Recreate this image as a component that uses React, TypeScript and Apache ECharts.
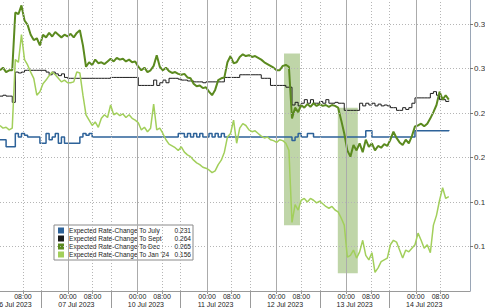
import React, { useEffect, useRef } from 'react';
import * as echarts from 'echarts';

const FONT = "'Liberation Sans', Arial, sans-serif";

const seriesNames = [
  'Expected Rate-Change To July',
  'Expected Rate-Change To Sept',
  'Expected Rate-Change To Dec',
  "Expected Rate-Change To Jan '24",
];
const lastValues = [0.231, 0.264, 0.265, 0.156];
const colors = ['#2d6299', '#1c1c1c', '#5b8a1f', '#a2cf5b'];

// samples: compressed trading hours since 06 Jul 2023 00:00, one per hour
const T0 = 0.5;
const STEP = 1;

const july = [
  0.220, 0.220, 0.212, 0.212, 0.212, 0.227, 0.223, 0.227, 0.225, 0.223,
  0.223, 0.223, 0.223, 0.216, 0.216, 0.227, 0.220, 0.223, 0.227, 0.216,
  0.223, 0.216, 0.216, 0.216, 0.216, 0.216, 0.223, 0.227, 0.225, 0.227,
  0.223, 0.223, 0.223, 0.223, 0.223, 0.223, 0.223, 0.223, 0.223, 0.223,
  0.223, 0.223, 0.223, 0.223, 0.223, 0.223, 0.223, 0.223, 0.223, 0.223,
  0.223, 0.223, 0.223, 0.223, 0.223, 0.223, 0.223, 0.223, 0.227, 0.227,
  0.223, 0.227, 0.223, 0.227, 0.223, 0.227, 0.223, 0.223, 0.227, 0.223,
  0.227, 0.223, 0.227, 0.223, 0.223, 0.223, 0.223, 0.223, 0.223, 0.223,
  0.223, 0.223, 0.223, 0.223, 0.223, 0.223, 0.223, 0.223, 0.223, 0.223,
  0.223, 0.223, 0.223, 0.223, 0.223, 0.219, 0.223, 0.227, 0.223, 0.223,
  0.227, 0.227, 0.223, 0.223, 0.223, 0.223, 0.223, 0.223, 0.223, 0.223,
  0.223, 0.223, 0.223, 0.223, 0.223, 0.223, 0.223, 0.223, 0.223, 0.230,
  0.230, 0.223, 0.223, 0.223, 0.223, 0.223, 0.223, 0.223, 0.223, 0.223,
  0.223, 0.223, 0.223, 0.223, 0.223, 0.230, 0.230, 0.230, 0.230, 0.230,
  0.230, 0.230, 0.230, 0.230, 0.230, 0.230, 0.231,
];

const sept = [
  0.269, 0.270, 0.269, 0.269, 0.262, 0.296, 0.295, 0.296, 0.298, 0.298,
  0.298, 0.298, 0.298, 0.298, 0.298, 0.296, 0.293, 0.296, 0.294, 0.292,
  0.294, 0.290, 0.289, 0.289, 0.289, 0.289, 0.289, 0.289, 0.289, 0.289,
  0.289, 0.289, 0.289, 0.289, 0.289, 0.289, 0.290, 0.290, 0.290, 0.290,
  0.290, 0.290, 0.290, 0.290, 0.290, 0.281, 0.281, 0.281, 0.281, 0.281,
  0.287, 0.281, 0.284, 0.287, 0.284, 0.289, 0.289, 0.289, 0.288, 0.287,
  0.287, 0.286, 0.286, 0.285, 0.285, 0.285, 0.284, 0.285, 0.285, 0.285,
  0.285, 0.285, 0.285, 0.290, 0.290, 0.290, 0.290, 0.290, 0.293, 0.293,
  0.293, 0.293, 0.293, 0.293, 0.293, 0.289, 0.289, 0.289, 0.281, 0.281,
  0.281, 0.281, 0.281, 0.279, 0.279, 0.259, 0.262, 0.258, 0.261, 0.265,
  0.261, 0.265, 0.261, 0.261, 0.263, 0.261, 0.265, 0.261, 0.261, 0.262,
  0.261, 0.261, 0.253, 0.253, 0.253, 0.253, 0.253, 0.261, 0.258, 0.261,
  0.259, 0.261, 0.258, 0.260, 0.258, 0.259, 0.258, 0.256, 0.256, 0.253,
  0.253, 0.256, 0.254, 0.256, 0.261, 0.267, 0.267, 0.267, 0.267, 0.267,
  0.272, 0.274, 0.270, 0.265, 0.265, 0.263, 0.264,
];

const dec = [
  0.298, 0.301, 0.296, 0.298, 0.298, 0.363, 0.361, 0.371, 0.354, 0.349,
  0.338, 0.332, 0.334, 0.326, 0.338, 0.335, 0.340, 0.336, 0.341, 0.338,
  0.335, 0.338, 0.336, 0.339, 0.335, 0.340, 0.343, 0.326, 0.302, 0.307,
  0.304, 0.310, 0.306, 0.307, 0.305, 0.308, 0.311, 0.308, 0.312, 0.310,
  0.311, 0.308, 0.310, 0.307, 0.308, 0.302, 0.298, 0.301, 0.296, 0.298,
  0.303, 0.315, 0.302, 0.298, 0.301, 0.297, 0.295, 0.296, 0.294, 0.293,
  0.294, 0.290, 0.289, 0.283, 0.280, 0.281, 0.278, 0.279, 0.274, 0.270,
  0.276, 0.287, 0.289, 0.290, 0.307, 0.314, 0.306, 0.307, 0.313, 0.316,
  0.314, 0.315, 0.313, 0.314, 0.312, 0.310, 0.307, 0.305, 0.303, 0.301,
  0.298, 0.298, 0.303, 0.304, 0.302, 0.244, 0.256, 0.251, 0.259, 0.256,
  0.260, 0.257, 0.261, 0.258, 0.260, 0.258, 0.259, 0.257, 0.259, 0.258,
  0.256, 0.242, 0.227, 0.208, 0.201, 0.214, 0.208, 0.216, 0.206, 0.220,
  0.212, 0.216, 0.208, 0.213, 0.211, 0.215, 0.213, 0.220, 0.229, 0.222,
  0.217, 0.214, 0.220, 0.216, 0.224, 0.235, 0.236, 0.238, 0.235, 0.238,
  0.244, 0.251, 0.259, 0.274, 0.265, 0.270, 0.265,
];

const jan24 = [
  0.236, 0.233, 0.234, 0.231, 0.233, 0.310, 0.307, 0.338, 0.310, 0.304,
  0.296, 0.289, 0.270, 0.274, 0.283, 0.287, 0.292, 0.296, 0.293, 0.289,
  0.285, 0.287, 0.284, 0.284, 0.285, 0.296, 0.295, 0.270, 0.248, 0.242,
  0.236, 0.240, 0.234, 0.244, 0.248, 0.245, 0.259, 0.248, 0.250, 0.247,
  0.249, 0.245, 0.248, 0.244, 0.242, 0.239, 0.231, 0.234, 0.229, 0.233,
  0.260, 0.231, 0.233, 0.227, 0.220, 0.215, 0.213, 0.211, 0.208, 0.212,
  0.206, 0.203, 0.201, 0.197, 0.194, 0.192, 0.189, 0.188, 0.186, 0.183,
  0.185, 0.192, 0.197, 0.206, 0.223, 0.227, 0.242, 0.216, 0.233, 0.238,
  0.236, 0.231, 0.229, 0.230, 0.227, 0.224, 0.222, 0.223, 0.220, 0.219,
  0.217, 0.220, 0.219, 0.216, 0.208, 0.127, 0.147, 0.141, 0.152, 0.154,
  0.150, 0.154, 0.152, 0.149, 0.151, 0.148, 0.145, 0.143, 0.145, 0.141,
  0.139, 0.132, 0.124, 0.088, 0.090, 0.096, 0.087, 0.094, 0.107, 0.090,
  0.085, 0.093, 0.071, 0.076, 0.083, 0.085, 0.087, 0.102, 0.107, 0.105,
  0.096, 0.087, 0.096, 0.094, 0.098, 0.102, 0.115, 0.107, 0.098, 0.102,
  0.093, 0.124, 0.135, 0.152, 0.166, 0.154, 0.156,
];

const dayLabels = ['06 Jul 2023', '07 Jul 2023', '10 Jul 2023', '11 Jul 2023', '12 Jul 2023', '13 Jul 2023', '14 Jul 2023'];
const dayCenters = [4.9, 25.35, 47.98, 70.61, 93.24, 115.87, 138.5];
const midnightTimes = [22.63, 45.26, 67.89, 90.52, 113.15, 135.78];
const eightTimes = [8, 30.63, 53.26, 75.89, 98.52, 121.15, 143.78];
const sessionBreaks = [14.03, 36.66, 59.29, 81.92, 104.55, 127.18];
const yTicks = [0.1, 0.15, 0.2, 0.25, 0.3, 0.35];

const eventStart = [92.9, 110.4];
const eventEnd = [98.1, 116.9];
const eventHigh = [0.317, 0.256];
const eventLow = [0.124, 0.07];

const X_MIN = 0.52;
const X_MAX = 153.4;

export default function App() {
  const ref = useRef<HTMLDivElement>(null);
  useEffect(() => {
    const chart = echarts.init(ref.current!, null, { renderer: 'svg' });
    const toData = (vals: number[]) => vals.map((v, i) => [T0 + i * STEP, v]);
    const near = (arr: number[], v: number) => arr.findIndex((t) => Math.abs(t - v) < 0.01);
    const timeTicks = [...eightTimes, ...midnightTimes].sort((a, b) => a - b);
    const allSeries = [july, sept, dec, jan24];
    const widths = [1.5, 1, 2, 1.5];
    const badgeText = ['#fff', '#fff', '#fff', '#2d4a0a'];
    const badgeBg = ['#2f6aa8', '#111', '#5b8a1f', '#a8d45c'];

    const dotted = { color: '#b5b5b5', type: [1, 2] as any, width: 1 };
    const solid = { color: '#ababab', type: 'solid' as any, width: 1 };
    const gridLines: any[] = [
      ...yTicks.map((v) => ({ yAxis: v, lineStyle: dotted })),
      ...eightTimes.map((t) => ({ xAxis: t, lineStyle: dotted })),
      ...sessionBreaks.map((t) => ({ xAxis: t, lineStyle: dotted })),
      ...midnightTimes.map((t) => ({ xAxis: t, lineStyle: solid })),
    ];

    const option: any = {
      animation: false,
      backgroundColor: '#fff',
      textStyle: { fontFamily: FONT },
      grid: { left: 0, right: 15, top: 0, bottom: 17, containLabel: false, outerBoundsMode: 'none' },
      legend: {
        data: seriesNames,
        orient: 'vertical',
        left: 54,
        top: 225,
        itemWidth: 6,
        itemHeight: 6,
        itemGap: 1,
        padding: [2, 2, 2, 4],
        icon: 'rect',
        backgroundColor: '#fff',
        borderColor: '#8a8a8a',
        borderWidth: 1,
        formatter: (name: string) => {
          const i = seriesNames.indexOf(name);
          return `{n|${name}}{v|${lastValues[i].toFixed(3)}}`;
        },
        textStyle: {
          fontFamily: FONT,
          fontSize: 6.6,
          color: '#222',
          rich: {
            n: { width: 104, fontSize: 6.6, lineHeight: 8, fontFamily: FONT, color: '#222' },
            v: { width: 18, align: 'right', fontSize: 6.6, lineHeight: 8, fontFamily: FONT, color: '#222' },
          },
        },
      },
      xAxis: [
        {
          type: 'value',
          min: X_MIN,
          max: X_MAX,
          position: 'bottom',
          axisLine: { show: true, lineStyle: { color: '#9a9a9a', width: 1 } },
          axisTick: { show: true, length: 3, customValues: timeTicks, lineStyle: { color: '#9a9a9a' } },
          axisLabel: {
            customValues: timeTicks,
            fontSize: 7,
            lineHeight: 7,
            color: '#222',
            margin: 2,
            fontFamily: FONT,
            formatter: (v: number) => (near(midnightTimes, v) >= 0 ? '00:00' : near(eightTimes, v) >= 0 ? '08:00' : ''),
          },
          splitLine: { show: false },
        },
        {
          type: 'value',
          min: X_MIN,
          max: X_MAX,
          position: 'bottom',
          offset: 0,
          axisLine: { show: false },
          axisTick: { show: true, length: 18, customValues: sessionBreaks, lineStyle: { color: '#9a9a9a' } },
          axisLabel: {
            customValues: dayCenters,
            fontSize: 7,
            lineHeight: 7,
            color: '#222',
            margin: 10,
            fontFamily: FONT,
            formatter: (v: number) => {
              const i = near(dayCenters, v);
              return i >= 0 ? dayLabels[i] : '';
            },
          },
          splitLine: { show: false },
        },
      ],
      yAxis: {
        type: 'value',
        position: 'right',
        min: 0.05,
        max: 0.377,
        interval: 0.05,
        axisLine: { show: true, lineStyle: { color: '#9aa6b6', width: 1 } },
        axisTick: { show: true, length: 3, customValues: yTicks, lineStyle: { color: '#777' } },
        axisLabel: {
          customValues: yTicks,
          fontSize: 8,
          color: '#333',
          margin: 4,
          fontFamily: FONT,
          formatter: (v: number) => (v < 0.075 || v > 0.36 ? '' : v.toFixed(2)),
        },
        splitLine: { show: false },
      },
      series: [
        {
          type: 'line',
          name: 'gridlines',
          data: [],
          silent: true,
          z: 1,
          markLine: {
            silent: true,
            symbol: ['none', 'none'],
            label: { show: false },
            data: gridLines,
          },
          markArea: {
            silent: true,
            itemStyle: { color: 'rgba(112,162,62,0.45)' },
            data: eventStart.map((s, i) => [
              { xAxis: s, yAxis: eventHigh[i] },
              { xAxis: eventEnd[i], yAxis: eventLow[i] },
            ]),
          },
        },
        ...allSeries.map((vals, k) => ({
          type: 'line',
          name: seriesNames[k],
          data: toData(vals),
          step: k < 2 ? 'end' : undefined,
          showSymbol: false,
          symbol: 'none',
          z: 2 + k,
          lineStyle: { color: colors[k], width: widths[k] },
          itemStyle: { color: colors[k] },
          markLine: {
            silent: true,
            symbol: ['none', 'none'],
            lineStyle: { opacity: 0 },
            label: {
              show: true,
              position: 'end',
              distance: 2,
              formatter: lastValues[k].toFixed(3),
              backgroundColor: badgeBg[k],
              color: badgeText[k],
              fontSize: 8,
              fontWeight: 'bold',
              fontFamily: FONT,
              padding: [1, 3, 0, 3],
              borderRadius: 3,
            },
            data: [{ yAxis: lastValues[k] }],
          },
        })),
      ],
    };
    chart.setOption(option);
    return () => chart.dispose();
  }, []);
  return (
    <div
      ref={ref}
      style={{ position: 'fixed', left: 0, top: 0, width: 485, height: 308, background: '#fff' }}
    />
  );
}
